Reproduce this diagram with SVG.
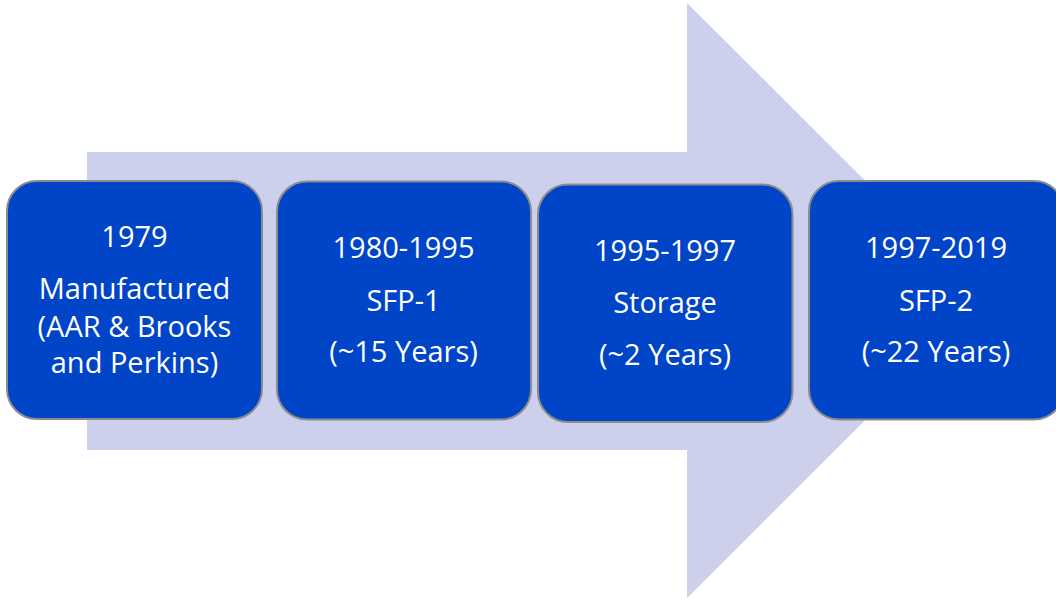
<svg xmlns="http://www.w3.org/2000/svg" width="1056" height="602" viewBox="0 0 1056 602">
  <style>
    .box { fill: #0044C8; stroke: #8C8C8C; stroke-width: 2; }
    .t { font-family: "Open Sans", "Noto Sans", sans-serif; font-size: 29px; fill: #FFFFFF; text-anchor: middle; }
  </style>
  <rect width="1056" height="602" fill="#FFFFFF"/>
  <g id="arrow">
    <polygon points="87,152 687,152 687,3 985,300.5 687,598 687,450 87,450" fill="#CCD0EC"/>
  </g>
  <g id="connectors"></g>
  <g id="node1">
    <rect class="box" x="7" y="181" width="255" height="238" rx="30" ry="30"/>
    <text class="t" x="134.5" y="246.5">1979</text>
    <text class="t" x="134.5" y="299">Manufactured</text>
    <text class="t" x="134.5" y="336.5">(AAR &amp; Brooks</text>
    <text class="t" x="134.5" y="373">and Perkins)</text>
  </g>
  <g id="node2">
    <rect class="box" x="277" y="181.5" width="254" height="238" rx="30" ry="30"/>
    <text class="t" x="403.5" y="257.5">1980-1995</text>
    <text class="t" x="403.5" y="311">SFP-1</text>
    <text class="t" x="403.5" y="361.5">(~15 Years)</text>
  </g>
  <g id="node3">
    <rect class="box" x="538" y="184.5" width="254.5" height="237.5" rx="30" ry="30"/>
    <text class="t" x="665" y="260.5">1995-1997</text>
    <text class="t" x="665" y="313">Storage</text>
    <text class="t" x="665" y="365">(~2 Years)</text>
  </g>
  <g id="node4">
    <rect class="box" x="809" y="181" width="255" height="238.5" rx="30" ry="30"/>
    <text class="t" x="936" y="257.5">1997-2019</text>
    <text class="t" x="936" y="311">SFP-2</text>
    <text class="t" x="936" y="361.5">(~22 Years)</text>
  </g>
</svg>
